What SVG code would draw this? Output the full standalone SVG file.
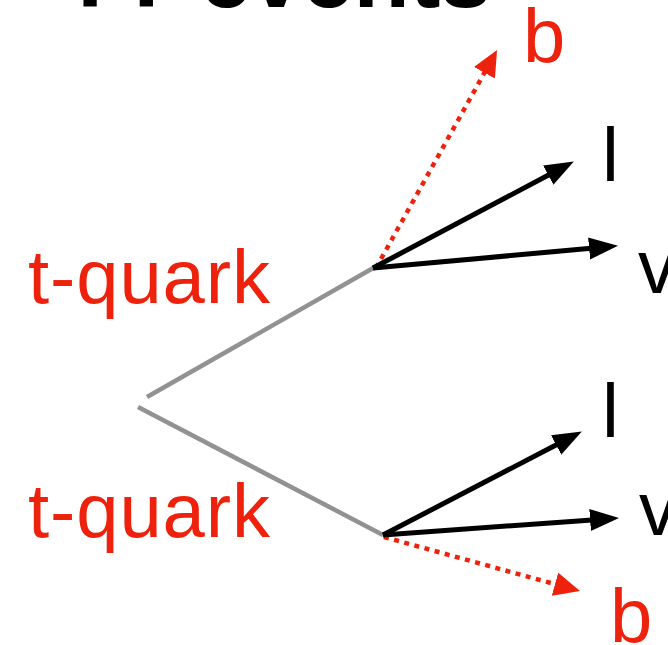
<svg xmlns="http://www.w3.org/2000/svg" width="668" height="645" viewBox="0 0 668 645">
<style>
.lbl{font-family:"Liberation Sans",Arial,Helvetica,sans-serif;font-size:76px}
.red{fill:#ee220c}
.blk{fill:#000}
.title{font-family:"Liberation Sans",Arial,Helvetica,sans-serif;font-size:92px;font-weight:bold;fill:#000}
.quark{stroke:#929292;stroke-width:4.5;fill:none}
.arr{stroke:#000;stroke-width:5;fill:none;marker-end:url(#ah)}
.bjet{stroke:#ee220c;stroke-width:4.5;fill:none;stroke-dasharray:5 5.5;marker-end:url(#ahr)}
</style>
<defs>
<marker id="ah" markerUnits="userSpaceOnUse" markerWidth="32" markerHeight="24" refX="2" refY="11" orient="auto">
<path d="M0,0 L29,11 L0,22 z" fill="#000"/>
</marker>
<marker id="ahr" markerUnits="userSpaceOnUse" markerWidth="30" markerHeight="26" refX="2" refY="12" orient="auto">
<path d="M0,0 L26,12 L0,24 z" fill="#ee220c"/>
</marker>
</defs>
<rect width="668" height="645" fill="#fff"/>
<g id="title"><text class="title" x="62" y="7">TT events</text></g>
<g id="connectors">
<line class="quark" x1="147" y1="397" x2="375" y2="267"/>
<line class="quark" x1="138" y1="407" x2="383" y2="535"/>
<line class="bjet" x1="376" y1="268" x2="485.4" y2="71"/>
<line class="arr" x1="373" y1="268" x2="550" y2="174.2"/>
<line class="arr" x1="373" y1="268" x2="591.1" y2="248.3"/>
<line class="bjet" x1="384" y1="537" x2="556.9" y2="584.7"/>
<line class="arr" x1="383" y1="535" x2="557.9" y2="444"/>
<line class="arr" x1="383" y1="535" x2="592.1" y2="519.9"/>
</g>
<g id="top-quark"><text class="lbl red" x="28" y="303" textLength="242" lengthAdjust="spacing">t-quark</text></g>
<g id="bottom-quark"><text class="lbl red" x="28" y="537" textLength="242" lengthAdjust="spacing">t-quark</text></g>
<g id="b-top"><text class="lbl red" x="523" y="62">b</text></g>
<g id="l-top"><text class="lbl blk" x="602" y="181">l</text></g>
<g id="v-top"><text class="lbl blk" x="638" y="293">v</text></g>
<g id="l-bottom"><text class="lbl blk" x="602" y="437">l</text></g>
<g id="v-bottom"><text class="lbl blk" x="639" y="535">v</text></g>
<g id="b-bottom"><text class="lbl red" x="610" y="642">b</text></g>
</svg>
